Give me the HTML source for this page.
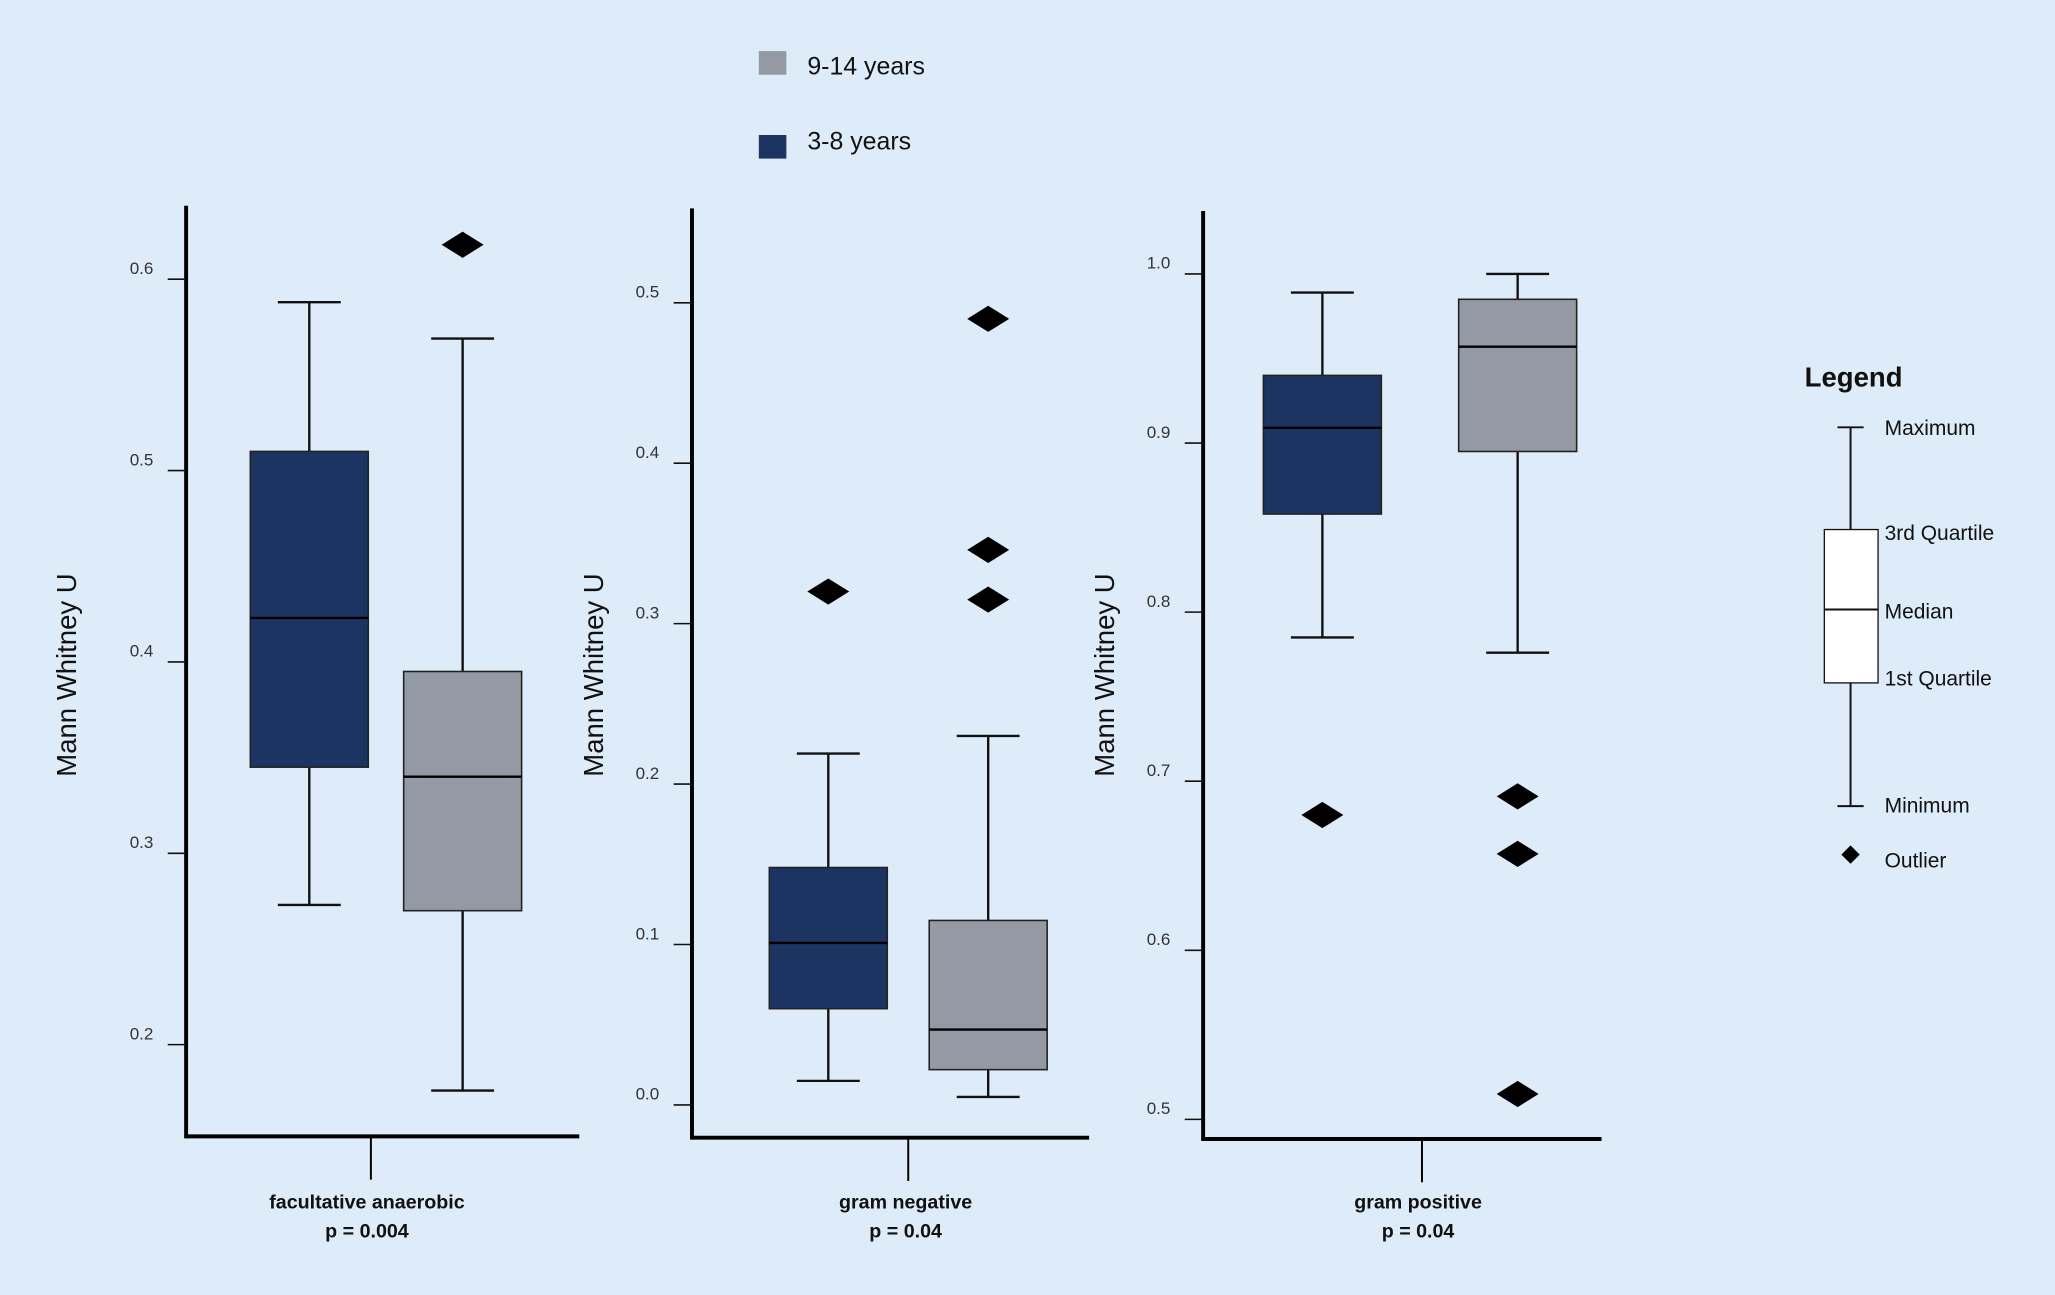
<!DOCTYPE html>
<html><head><meta charset="utf-8"><style>
html,body{margin:0;padding:0;background:#deebf8;}
svg{display:block;font-family:"Liberation Sans",sans-serif;}
</style></head><body>
<svg id="chart" width="2055" height="1295" viewBox="0 0 1568 988" preserveAspectRatio="none" xmlns="http://www.w3.org/2000/svg">
<rect x="0" y="0" width="1568" height="988" fill="#deebf8"/>
<g>
<rect x="579" y="39" width="21" height="18" fill="#939aa3"/>
<text x="616" y="57" font-size="19" fill="#111">9-14 years</text>
<rect x="579" y="103" width="21" height="18" fill="#1c3461"/>
<text x="616" y="114" font-size="19" fill="#111">3-8 years</text>
</g>
<g>
<text x="1377" y="295" font-size="21" font-weight="bold" fill="#111">Legend</text>
<line x1="1412" y1="326" x2="1412" y2="404" stroke="#111" stroke-width="1.5"/>
<line x1="1412" y1="521" x2="1412" y2="615" stroke="#111" stroke-width="1.5"/>
<line x1="1402" y1="326" x2="1422" y2="326" stroke="#111" stroke-width="1.5"/>
<line x1="1402" y1="615" x2="1422" y2="615" stroke="#111" stroke-width="1.5"/>
<rect x="1392" y="404" width="41" height="117" fill="#fff" stroke="#111" stroke-width="1"/>
<line x1="1392" y1="465" x2="1433" y2="465" stroke="#111" stroke-width="1.5"/>
<polygon points="1412,645 1419,652 1412,659 1405,652" fill="#000"/>
<g font-size="16" fill="#111">
<text x="1438" y="332">Maximum</text>
<text x="1438" y="412">3rd Quartile</text>
<text x="1438" y="472">Median</text>
<text x="1438" y="523">1st Quartile</text>
<text x="1438" y="620">Minimum</text>
<text x="1438" y="662">Outlier</text>
</g>
</g>
<g id="plots"></g>
</svg>
<script>
// Panel data: [min, q1, median, q3, max] for 3-8 years (navy) and 9-14 years (gray)
const categories = ["facultative anaerobic", "gram negative", "gram positive"];
const pValues = ["p = 0.004", "p = 0.04", "p = 0.04"];
const young = [[0.273,0.345,0.423,0.510,0.588],[0.015,0.060,0.101,0.148,0.219],[0.785,0.858,0.909,0.940,0.989]];
const older = [[0.176,0.270,0.340,0.395,0.569],[0.005,0.022,0.047,0.115,0.230],[0.776,0.895,0.957,0.985,1.000]];
const youngOutliers = [[],[0.32],[0.68]];
const olderOutliers = [[0.618],[0.49,0.346,0.315],[0.691,0.657,0.515]];
const tickLabels = [["0.2","0.3","0.4","0.5","0.6"],["0.0","0.1","0.2","0.3","0.4","0.5"],["0.5","0.6","0.7","0.8","0.9","1.0"]];
const domains = [[0.2,0.6],[0.0,0.5],[0.5,1.0]];

const layout = [
 {ax:142, top:157, base:867, right:442, r0:797, r1:213, c1:236, c2:353, cat:283, title:50, lab:280},
 {ax:528, top:159, base:868, right:831, r0:843, r1:231, c1:632, c2:754, cat:693, title:452, lab:691},
 {ax:918, top:161, base:869, right:1222, r0:854, r1:209, c1:1009, c2:1158, cat:1085, title:842, lab:1082}
];
const NS="http://www.w3.org/2000/svg";
const root=document.getElementById('plots');
function mk(tag,attrs,parent){const e=document.createElementNS(NS,tag);for(const k in attrs)e.setAttribute(k,attrs[k]);(parent||root).appendChild(e);return e;}
categories.forEach((cat,i)=>{
 const L=layout[i];const d=domains[i];
 const y=v=>L.r0+(v-d[0])/(d[1]-d[0])*(L.r1-L.r0);
 const g=mk('g',{});
 
 
 const ya=mk('line',{x1:L.ax,y1:L.top,x2:L.ax,y2:L.base+1.5,stroke:'#000','stroke-width':3},g);
 
 
 const xa=mk('line',{x1:L.ax,y1:L.base,x2:L.right,y2:L.base,stroke:'#000','stroke-width':3},g);
 
 
 mk('line',{x1:L.cat,y1:L.base,x2:L.cat,y2:L.base+33,stroke:'#000','stroke-width':1.5},g);
 tickLabels[i].forEach(t=>{
  const v=parseFloat(t),yy=y(v);
  mk('line',{x1:L.ax-14,y1:yy,x2:L.ax,y2:yy,stroke:'#111','stroke-width':1.2},g);
  const tx=mk('text',{x:L.ax-34,y:yy-4,'font-size':13,fill:'#333','text-anchor':'middle'},g);
  tx.textContent=t;
  
  
 });
 const tt=mk('text',{x:L.title,y:515,'font-size':21,fill:'#111','text-anchor':'middle',transform:`rotate(-90 ${L.title} 515) translate(0 8)`},g);
 tt.textContent='Mann Whitney U';
 
 
 const l1=mk('text',{x:L.lab,y:922,'font-size':15,'font-weight':'bold',fill:'#111','text-anchor':'middle'},g);
 l1.textContent=cat;
 
 
 const l2=mk('text',{x:L.lab,y:944,'font-size':15,'font-weight':'bold',fill:'#111','text-anchor':'middle'},g);
 l2.textContent=pValues[i];
 
 
 [[young[i],youngOutliers[i],L.c1,'#1c3461','young'],[older[i],olderOutliers[i],L.c2,'#939aa3','older']].forEach(([s,outs,cx,col,nm])=>{
  const bg=mk('g',{},g);
  
  
  mk('line',{x1:cx,y1:y(s[4]),x2:cx,y2:y(s[3]),stroke:'#111','stroke-width':1.8},bg);
  mk('line',{x1:cx,y1:y(s[1]),x2:cx,y2:y(s[0]),stroke:'#111','stroke-width':1.8},bg);
  mk('line',{x1:cx-24,y1:y(s[4]),x2:cx+24,y2:y(s[4]),stroke:'#111','stroke-width':1.8},bg);
  mk('line',{x1:cx-24,y1:y(s[0]),x2:cx+24,y2:y(s[0]),stroke:'#111','stroke-width':1.8},bg);
  mk('rect',{x:cx-45,y:y(s[3]),width:90,height:y(s[1])-y(s[3]),fill:col,stroke:'#222','stroke-width':1.2},bg);
  mk('line',{x1:cx-45,y1:y(s[2]),x2:cx+45,y2:y(s[2]),stroke:'#000','stroke-width':1.8},bg);
  outs.forEach(o=>{
   const oy=y(o);
   const p=mk('polygon',{points:`${cx-16},${oy} ${cx},${oy-10} ${cx+16},${oy} ${cx},${oy+10}`,fill:'#000'},bg);
   
   
  });
 });
});
</script>
</body></html>
